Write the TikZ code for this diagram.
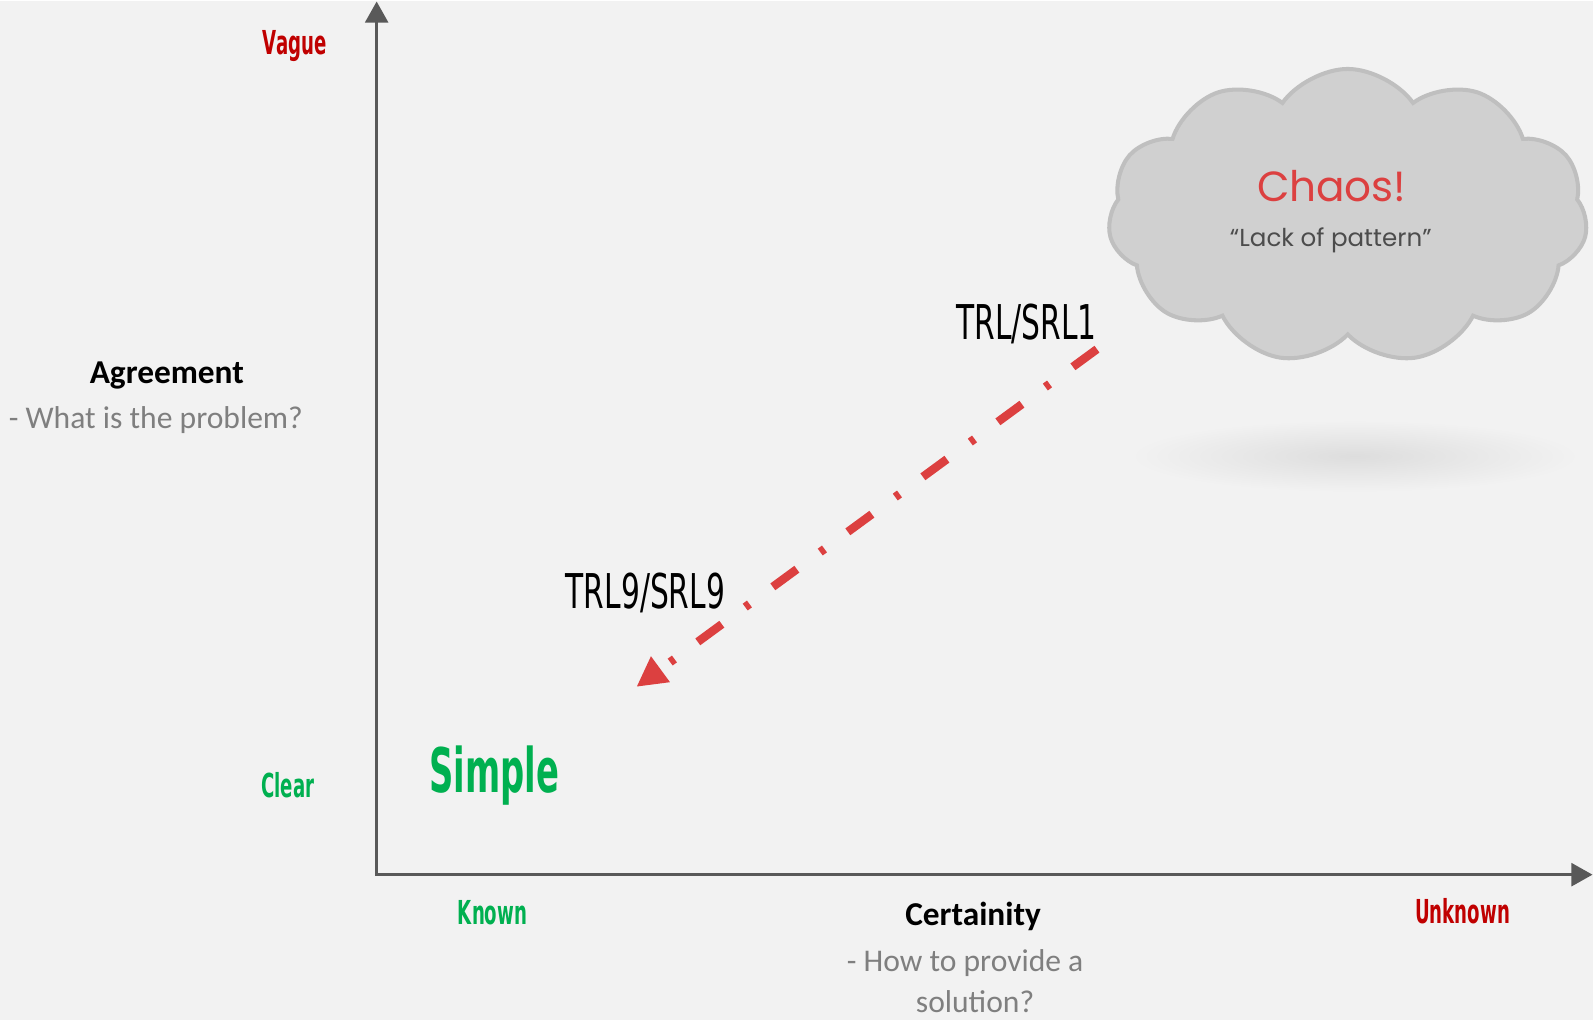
\documentclass[tikz,border=0pt]{standalone}
\usepackage{fontspec}
\setmainfont{Carlito}
\newfontfamily\agencyfont[FakeStretch=0.62]{DejaVu Sans}
\newfontfamily\agencybold[FakeStretch=0.55]{DejaVu Sans}
\newfontfamily\handfont{Poppins}
\usetikzlibrary{arrows.meta,shapes.symbols}

\definecolor{bgc}{HTML}{F2F2F2}
\definecolor{axisgray}{HTML}{595959}
\definecolor{darkred}{HTML}{C00000}
\definecolor{okgreen}{HTML}{00B050}
\definecolor{subgray}{HTML}{7F7F7F}
\definecolor{arrowred}{HTML}{DC4040}
\definecolor{cloudfill}{HTML}{D0D0D0}
\definecolor{cloudline}{HTML}{BFBFBF}
\definecolor{shd}{HTML}{DDDDDD}

\begin{document}
\begin{tikzpicture}[x=0.02cm,y=-0.02cm,
  axis/.style={draw=axisgray,line width=1.7pt,line join=miter,>={Triangle[length=12pt,width=13pt]}},
  lvl/.style={font=\agencybold\bfseries\fontsize{18.8}{20}\selectfont,anchor=base,inner sep=0pt},
  trl/.style={font=\agencyfont\fontsize{27.3}{30}\selectfont,anchor=base,inner sep=0pt},
  ttl/.style={font=\bfseries\fontsize{19}{22}\selectfont,anchor=base,inner sep=0pt},
  sub/.style={font=\fontsize{18}{25}\selectfont,text=subgray,anchor=base,inner sep=0pt}]

\fill[bgc] (0,0) rectangle (1594,1019);

\coordinate (o) at (377,874);
\coordinate (ytop) at (377,0);
\coordinate (xend) at (1594,874);
\coordinate (trl1) at (1098,348);
\coordinate (trl9) at (637,686);

% axes
\draw[axis,<->] (ytop) |- (xend);

\node[lvl,text=darkred] (vague) at (295,53) {Vague};
\node[lvl,text=okgreen] (clear) at (288,797) {Clear};
\node[lvl,text=okgreen] (known) at (493,924) {Known};
\node[lvl,text=darkred] (unknown) at (1464,923) {Unknown};

\node[ttl] (agree) at (167,382) {Agreement};
\node[sub] (agreeq) at (156,427) {- What is the problem?};
\node[ttl] (cert) at (974,925) {Certainity};
\node[sub] (certq) at (966,971) {- How to provide a};
\node[sub] (certq2) at (976,1012) {solution?};

\node[font=\agencybold\bfseries\fontsize{35}{38}\selectfont,text=okgreen,anchor=base,inner sep=0pt] (simple) at (495,792) {Simple};

% cloud and its shadow
\shade[inner color=shd,outer color=bgc] (1356,455) ellipse (4.5cm and 0.72cm);
\node[cloud,cloud puffs=11,cloud puff arc=110,aspect=1.63,draw=cloudline,fill=cloudfill,
  line width=2.3pt,minimum width=9.6cm,minimum height=5.9cm,inner sep=0pt] (cloud) at (1349,215) {};
\node[font=\handfont\fontsize{24}{26}\selectfont,text=arrowred,anchor=base,inner sep=0pt] (chaos) at (1333,200) {Chaos!};
\node[font=\handfont\fontsize{14}{16}\selectfont,text=black!70,anchor=base,inner sep=0pt] (lack) at (1332,245) {“Lack of pattern”};

% path from TRL1 to TRL9
\node[trl,anchor=base east] (t1) at (1098,338) {TRL/SRL1};
\node[trl] (t9) at (646,608) {TRL9/SRL9};
\draw[arrowred,line width=4.8pt,dash pattern=on 17pt off 16.5pt on 3pt off 16.5pt,
  -{Triangle[length=17pt,width=17pt]}] (trl1) -- (trl9);

\end{tikzpicture}
\end{document}
